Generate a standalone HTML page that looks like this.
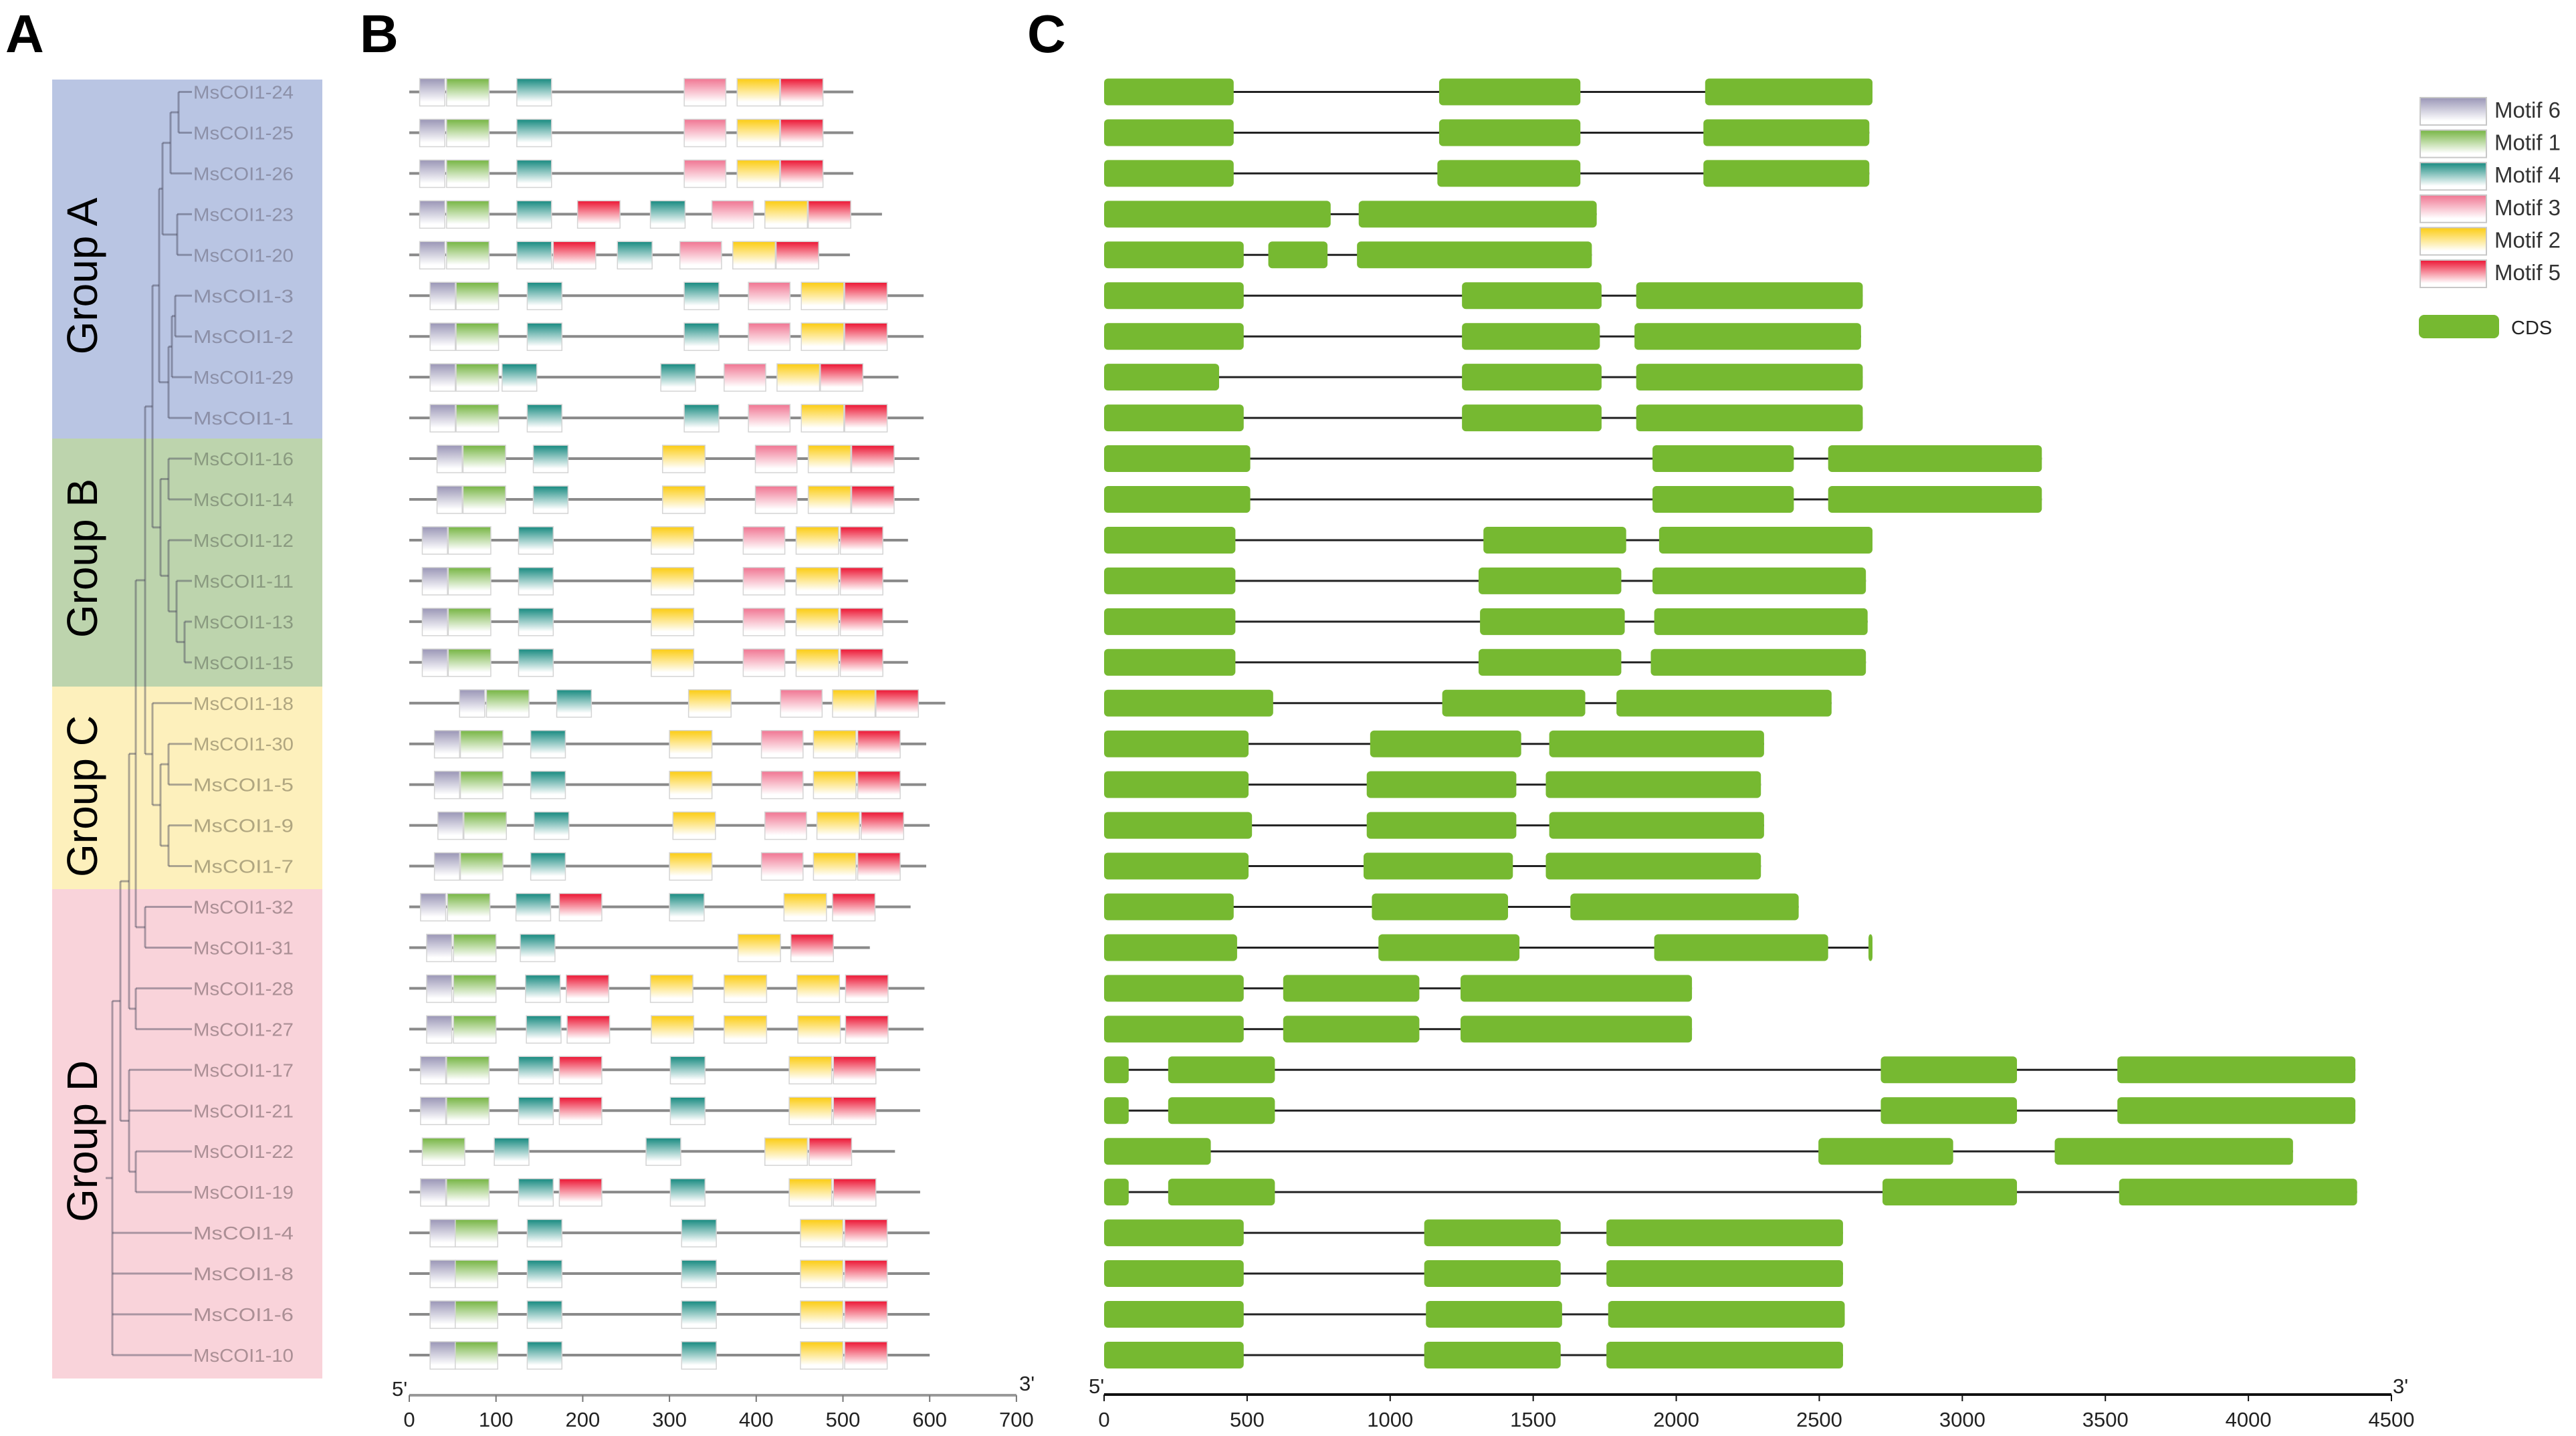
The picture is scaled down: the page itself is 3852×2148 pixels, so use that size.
<!DOCTYPE html>
<html><head><meta charset="utf-8"><style>
html,body{margin:0;padding:0;background:#fff;}
svg{display:block;}
text{font-family:"Liberation Sans",sans-serif;}
</style></head><body>
<svg id="fig" xmlns="http://www.w3.org/2000/svg" width="3852" height="2148" viewBox="0 0 3852 2148">
<defs>
<linearGradient id="g6" x1="0" y1="0" x2="0" y2="1"><stop offset="0" stop-color="#9a96b6"/><stop offset="0.85" stop-color="#fff"/></linearGradient>
<linearGradient id="g1" x1="0" y1="0" x2="0" y2="1"><stop offset="0" stop-color="#76b543"/><stop offset="0.85" stop-color="#fff"/></linearGradient>
<linearGradient id="g4" x1="0" y1="0" x2="0" y2="1"><stop offset="0" stop-color="#178a80"/><stop offset="0.85" stop-color="#fff"/></linearGradient>
<linearGradient id="g3" x1="0" y1="0" x2="0" y2="1"><stop offset="0" stop-color="#f07592"/><stop offset="0.85" stop-color="#fff"/></linearGradient>
<linearGradient id="g2" x1="0" y1="0" x2="0" y2="1"><stop offset="0" stop-color="#fccc12"/><stop offset="0.85" stop-color="#fff"/></linearGradient>
<linearGradient id="g5" x1="0" y1="0" x2="0" y2="1"><stop offset="0" stop-color="#ec1533"/><stop offset="0.85" stop-color="#fff"/></linearGradient>
</defs>
<g id="layer"></g>
</svg>
<script>
const geneNames = ['MsCOI1-24','MsCOI1-25','MsCOI1-26','MsCOI1-23','MsCOI1-20','MsCOI1-3','MsCOI1-2','MsCOI1-29','MsCOI1-1','MsCOI1-16','MsCOI1-14','MsCOI1-12','MsCOI1-11','MsCOI1-13','MsCOI1-15','MsCOI1-18','MsCOI1-30','MsCOI1-5','MsCOI1-9','MsCOI1-7','MsCOI1-32','MsCOI1-31','MsCOI1-28','MsCOI1-27','MsCOI1-17','MsCOI1-21','MsCOI1-22','MsCOI1-19','MsCOI1-4','MsCOI1-8','MsCOI1-6','MsCOI1-10'];
const protLen = [512,512,512,545,508,593,593,564,593,588,588,575,575,575,575,618,596,596,600,596,578,531,594,593,589,589,560,589,600,600,600,600];
const motifWidth = {6:29,1:49,4:40,3:48,2:49,5:49};
const motifOrder = [6,1,4,3,2,5];
const motifs = [
[[6,12],[1,43],[4,124],[3,317],[2,378],[5,428]],
[[6,12],[1,43],[4,124],[3,317],[2,378],[5,428]],
[[6,12],[1,43],[4,124],[3,317],[2,378],[5,428]],
[[6,12],[1,43],[4,124],[5,194],[4,278],[3,349],[2,410],[5,460]],
[[6,12],[1,43],[4,124],[5,166],[4,240],[3,312],[2,373],[5,423]],
[[6,24],[1,54],[4,136],[4,317],[3,391],[2,452],[5,502]],
[[6,24],[1,54],[4,136],[4,317],[3,391],[2,452],[5,502]],
[[6,24],[1,54],[4,107],[4,290],[3,363],[2,424],[5,474]],
[[6,24],[1,54],[4,136],[4,317],[3,391],[2,452],[5,502]],
[[6,32],[1,62],[4,143],[2,292],[3,399],[2,460],[5,510]],
[[6,32],[1,62],[4,143],[2,292],[3,399],[2,460],[5,510]],
[[6,15],[1,45],[4,126],[2,279],[3,385],[2,446],[5,497]],
[[6,15],[1,45],[4,126],[2,279],[3,385],[2,446],[5,497]],
[[6,15],[1,45],[4,126],[2,279],[3,385],[2,446],[5,497]],
[[6,15],[1,45],[4,126],[2,279],[3,385],[2,446],[5,497]],
[[6,58],[1,89],[4,170],[2,322],[3,428],[2,488],[5,538]],
[[6,29],[1,59],[4,140],[2,300],[3,406],[2,466],[5,517]],
[[6,29],[1,59],[4,140],[2,300],[3,406],[2,466],[5,517]],
[[6,33],[1,63],[4,144],[2,304],[3,410],[2,470],[5,521]],
[[6,29],[1,59],[4,140],[2,300],[3,406],[2,466],[5,517]],
[[6,13],[1,44],[4,123],[5,173],[4,300],[2,432],[5,488]],
[[6,20],[1,51],[4,128],[2,379],[5,440]],
[[6,20],[1,51],[4,134],[5,181],[2,278],[2,363],[2,447],[5,503]],
[[6,20],[1,51],[4,135],[5,182],[2,279],[2,363],[2,448],[5,503]],
[[6,13],[1,43],[4,126],[5,173],[4,301],[2,438],[5,489]],
[[6,13],[1,43],[4,126],[5,173],[4,301],[2,438],[5,489]],
[[1,15],[4,98],[4,273],[2,410],[5,461]],
[[6,13],[1,43],[4,126],[5,173],[4,301],[2,438],[5,489]],
[[6,24],[1,53],[4,136],[4,314],[2,451],[5,502]],
[[6,24],[1,53],[4,136],[4,314],[2,451],[5,502]],
[[6,24],[1,53],[4,136],[4,314],[2,451],[5,502]],
[[6,24],[1,53],[4,136],[4,314],[2,451],[5,502]]
];
const exons = [
[[0,453],[1171,1665],[2101,2686]],
[[0,453],[1171,1665],[2095,2675]],
[[0,453],[1165,1665],[2095,2675]],
[[0,792],[890,1722]],
[[0,488],[574,781],[884,1705]],
[[0,488],[1251,1739],[1860,2652]],
[[0,488],[1251,1733],[1854,2646]],
[[0,402],[1251,1739],[1860,2652]],
[[0,488],[1251,1739],[1860,2652]],
[[0,511],[1917,2411],[2531,3278]],
[[0,511],[1917,2411],[2531,3278]],
[[0,459],[1326,1825],[1940,2686]],
[[0,459],[1309,1808],[1917,2663]],
[[0,459],[1314,1820],[1923,2669]],
[[0,459],[1309,1808],[1911,2663]],
[[0,591],[1182,1682],[1791,2543]],
[[0,505],[930,1458],[1556,2307]],
[[0,505],[918,1441],[1544,2296]],
[[0,517],[918,1441],[1556,2307]],
[[0,505],[907,1429],[1544,2296]],
[[0,453],[936,1412],[1630,2428]],
[[0,465],[959,1452],[1923,2531],[2672,2686]],
[[0,488],[626,1102],[1246,2055]],
[[0,488],[626,1102],[1246,2055]],
[[0,86],[224,597],[2715,3191],[3542,4374]],
[[0,86],[224,597],[2715,3191],[3542,4374]],
[[0,373],[2497,2968],[3323,4156]],
[[0,86],[224,597],[2721,3191],[3548,4380]],
[[0,488],[1119,1596],[1756,2583]],
[[0,488],[1119,1596],[1756,2583]],
[[0,488],[1125,1601],[1762,2589]],
[[0,488],[1119,1596],[1756,2583]]
];
const aaTicks = [0,100,200,300,400,500,600,700];
const bpTicks = [0,500,1000,1500,2000,2500,3000,3500,4000,4500];
const groupNames = ['Group A','Group B','Group C','Group D'];
const groupRows = [[0,8],[9,14],[15,19],[20,31]];
// tree: node = {x, c:[...]} ; tips = row index
const tree = {x:168,c:[
  {x:180,c:[
    {x:193,c:[
      {x:203,c:[
        {x:217,c:[
          {x:228,c:[
            {x:238,c:[
              {x:243,c:[{x:255,c:[{x:267,c:[0,1]},2]},{x:265,c:[3,4]}]},
              {x:252,c:[{x:257,c:[{x:262,c:[5,6]},7]},8]}
            ]},
            {x:240,c:[{x:252,c:[9,10]},{x:252,c:[11,{x:264,c:[12,{x:276,c:[13,14]}]}]}]}
          ]},
          {x:228,c:[15,{x:240,c:[{x:252,c:[16,17]},{x:252,c:[18,19]}]}]}
        ]},
        {x:217,c:[20,21]}
      ]},
      {x:203,c:[22,23]}
    ]},
    {x:193,c:[24,25,{x:203,c:[26,27]}]}
  ]},
  28,29,30,31
]};

const NS='http://www.w3.org/2000/svg';
const layer=document.getElementById('layer');
function mk(tag,attrs,parent){const e=document.createElementNS(NS,tag);for(const k in attrs)e.setAttribute(k,attrs[k]);(parent||layer).appendChild(e);return e;}
const rowY=i=>137.5+i*60.95;
const xB=aa=>612+aa*1.297;
const xC=bp=>1651+bp*(3576-1651)/4500;

// group backgrounds
const groupColors=['#b9c5e3','#bdd4ad','#fdf0bc','#f9d3da'];
const groupBounds=[[119,656],[656,1027],[1027,1330],[1330,2062]];
const groupLabelY=[413,835,1191,1707];
const textColors=['#8c90a8','#8a9a80','#b0a680','#ab8f95'];
groupNames.forEach((g,i)=>{
  const r=mk('rect',{x:78,y:groupBounds[i][0],width:404,height:groupBounds[i][1]-groupBounds[i][0],fill:groupColors[i]});
  
  
  const t=mk('text',{x:0,y:0,'font-size':64,fill:'#000','text-anchor':'middle',transform:`translate(145,${groupLabelY[i]}) rotate(-90)`});
  t.textContent=g;
  
  
});
function groupOf(i){for(let g=0;g<4;g++){if(i>=groupRows[g][0]&&i<=groupRows[g][1])return g;}return 3;}
// tree drawing
const tg=mk('g',{stroke:'rgba(70,70,90,0.45)','stroke-width':3,fill:'none'});


function draw(n){
  if(typeof n==='number'){return rowY(n);}
  const ys=n.c.map(c=>{const y=draw(c);const cx=typeof c==='number'?287:c.x;mk('line',{x1:n.x,y1:y,x2:cx,y2:y},tg);return y;});
  mk('line',{x1:n.x,y1:Math.min(...ys),x2:n.x,y2:Math.max(...ys)},tg);
  return (Math.min(...ys)+Math.max(...ys))/2;
}
const ry=draw(tree);
mk('line',{x1:158,y1:ry,x2:168,y2:ry},tg);
// tip labels
geneNames.forEach((nm,i)=>{
  const t=mk('text',{x:289,y:rowY(i)+10,'font-size':28,fill:textColors[groupOf(i)],textLength:150,lengthAdjust:'spacingAndGlyphs'});
  t.textContent=nm;
  
  
});
// panel letters
[['A',8],['B',538],['C',1536]].forEach(([l,x])=>{
  const t=mk('text',{x:x,y:78,'font-size':80,'font-weight':'bold',fill:'#000'});
  t.textContent=l;
  
  
});
// panel B motifs
geneNames.forEach((nm,i)=>{
  const y=rowY(i);
  const g=mk('g',{});
  
  
  mk('line',{x1:xB(0),y1:y,x2:xB(protLen[i]),y2:y,stroke:'#8a8a8a','stroke-width':4},g);
  motifs[i].forEach(([m,s])=>{
    const r=mk('rect',{x:xB(s),y:y-20,width:motifWidth[m]*1.297,height:41,fill:`url(#g${m})`,stroke:'#d4d4d4','stroke-width':1.5},g);
    
    
  });
});
// panel B axis
const axB=mk('g',{});


mk('line',{x1:xB(0),y1:2087,x2:xB(700),y2:2087,stroke:'#999','stroke-width':4},axB);
aaTicks.forEach(v=>{
  mk('line',{x1:xB(v),y1:2087,x2:xB(v),y2:2097,stroke:'#777','stroke-width':2},axB);
  const t=mk('text',{x:xB(v),y:2134,'font-size':31,'text-anchor':'middle',fill:'#222'},axB);
  t.textContent=v;
});
let t5=mk('text',{x:586,y:2088,'font-size':31,fill:'#222'},axB);t5.textContent="5'";
let t3=mk('text',{x:1524,y:2080,'font-size':31,fill:'#222'},axB);t3.textContent="3'";
// panel C exons
geneNames.forEach((nm,i)=>{
  const y=rowY(i);
  const ex=exons[i];
  const g=mk('g',{});
  
  
  mk('line',{x1:xC(0),y1:y,x2:xC(ex[ex.length-1][1]),y2:y,stroke:'#222','stroke-width':3},g);
  ex.forEach(([s,e])=>{
    const r=mk('rect',{x:xC(s),y:y-20,width:Math.max(3,xC(e)-xC(s)),height:40,rx:6,fill:'#76b931'},g);
    
    
  });
});
// panel C axis
const axC=mk('g',{});


mk('line',{x1:xC(0),y1:2086,x2:xC(4500),y2:2086,stroke:'#111','stroke-width':4},axC);
bpTicks.forEach(v=>{
  mk('line',{x1:xC(v),y1:2086,x2:xC(v),y2:2096,stroke:'#111','stroke-width':2},axC);
  const t=mk('text',{x:xC(v),y:2134,'font-size':31,'text-anchor':'middle',fill:'#222'},axC);
  t.textContent=v;
});
t5=mk('text',{x:1628,y:2084,'font-size':31,fill:'#222'},axC);t5.textContent="5'";
t3=mk('text',{x:3578,y:2084,'font-size':31,fill:'#222'},axC);t3.textContent="3'";
// legend
const lg=mk('g',{});


motifOrder.forEach((m,k)=>{
  const y=146+k*48.6;
  const r=mk('rect',{x:3619,y:y,width:99,height:41,fill:`url(#g${m})`,stroke:'#c8c8c8','stroke-width':2},lg);
  
  
  const t=mk('text',{x:3730,y:y+30,'font-size':33,fill:'#333'},lg);
  t.textContent='Motif '+m;
});
const cr=mk('rect',{x:3617,y:471,width:120,height:35,rx:8,fill:'#76b931'},lg);


const ct=mk('text',{x:3755,y:500,'font-size':29,fill:'#222'},lg);ct.textContent='CDS';
</script>
</body></html>
